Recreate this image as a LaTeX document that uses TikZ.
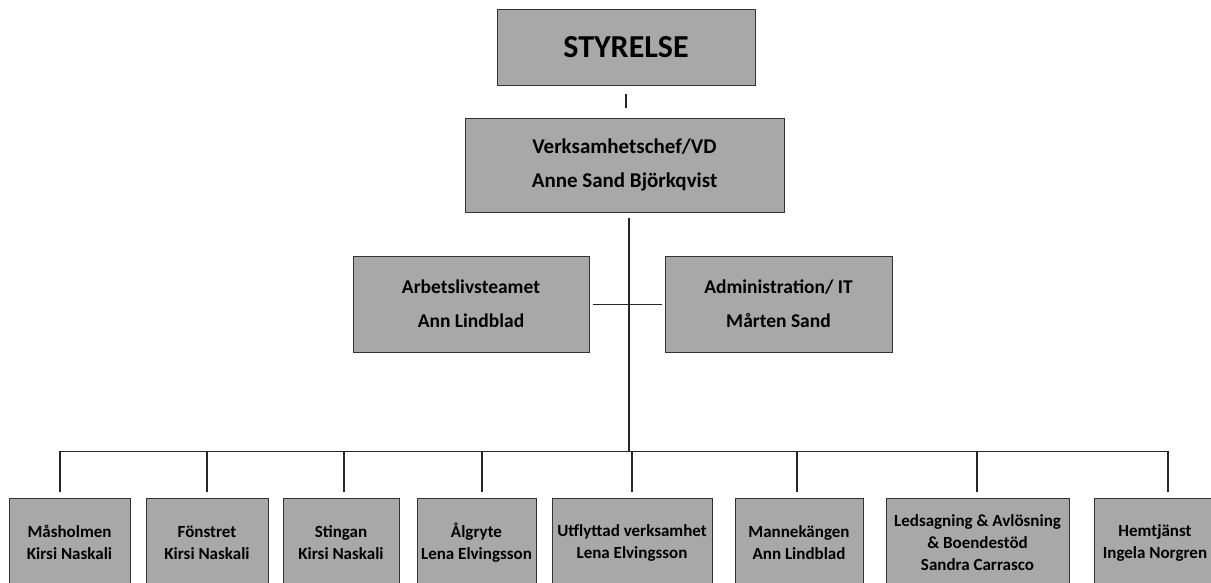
\documentclass[tikz,border=0pt]{standalone}
\usepackage{fontspec}
\setmainfont{Carlito}
\definecolor{boxgray}{RGB}{168,168,168}
\begin{document}
\begin{tikzpicture}[x=1pt,y=-1pt,
    orgbox/.style={draw=black!80, line width=1pt, fill=boxgray, align=center, inner sep=0pt},
    link/.style={line width=1.3pt, black!85}]
    \def \boxtop {498} % top of the lower row
    \useasboundingbox (0,0) rectangle (1211,582);
    \clip (0,0) rectangle (1211,582);
    \node[orgbox, minimum width=258, minimum height=76,
      font=\bfseries\fontsize{32}{38}\selectfont] (styrelse) at (626,47) {STYRELSE};
    \node[orgbox, minimum width=319, minimum height=94,
      font=\bfseries\fontsize{21}{34}\selectfont] (vd) at (624.5,165)
      {Verksamhetschef/VD\\Anne Sand Björkqvist};
    \node[orgbox, minimum width=236, minimum height=96,
      font=\bfseries\fontsize{19.5}{34}\selectfont] (arbetsliv) at (471,304)
      {Arbetslivsteamet\\Ann Lindblad};
    \node[orgbox, minimum width=227, minimum height=96,
      font=\bfseries\fontsize{19.5}{34}\selectfont] (admin) at (778.5,304)
      {Administration/ IT\\Mårten Sand};
    \coordinate (bus) at (629,451);
    \draw[link, shorten <=8pt, shorten >=10pt] (styrelse.south) -- (styrelse.south |- vd.north);
    \draw[link, shorten <=5pt] (vd.south -| bus) -- (bus);
    \draw[line width=1pt, black!85, shorten <=3pt, shorten >=3pt] (arbetsliv.east) -- (admin.west);
    % lower row: name/centre/width/offset of drop/text
    \foreach \name/\x/\w/\dx/\txt in {
        masholmen/69.5/121/-9.5/{Måsholmen\\Kirsi Naskali},
        fonstret/207/122/0/{Fönstret\\Kirsi Naskali},
        stingan/341/116/3/{Stingan\\Kirsi Naskali},
        algryte/476.5/119/5.5/{Ålgryte\\Lena Elvingsson},
        utflyttad/632/160/0/{Utflyttad verksamhet\\Lena Elvingsson},
        mannekangen/799/128/-2/{Mannekängen\\Ann Lindblad},
        ledsagning/977.5/183/-0.5/{Ledsagning \& Avlösning\\\& Boendestöd\\Sandra Carrasco},
        hemtjanst/1155/122/13/{Hemtjänst\\Ingela Norgren}}
    {
      \node[orgbox, anchor=north, minimum width=\w, minimum height=88,
        font=\bfseries\fontsize{17}{22}\selectfont] (\name) at (\x,\boxtop) {\txt};
      \draw[link, shorten <=6pt] ([xshift=\dx]\name.north) -- ([xshift=\dx]\name.north |- bus);
    }
    \draw[line width=1pt, black!85] ([xshift=-9.5]masholmen.north |- bus) -- ([xshift=13]hemtjanst.north |- bus);
\end{tikzpicture}
\end{document}
